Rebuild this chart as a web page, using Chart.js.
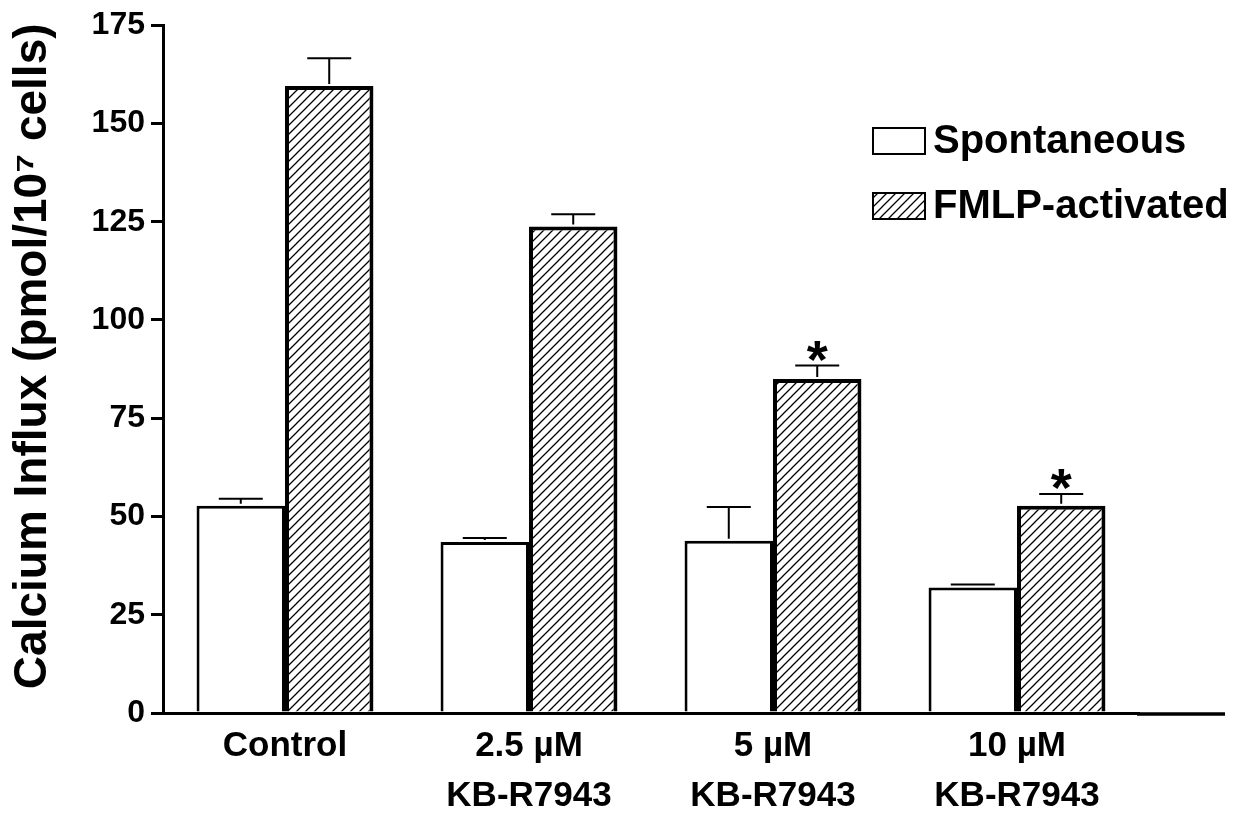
<!DOCTYPE html>
<html>
<head>
<meta charset="utf-8">
<script src="https://cdn.jsdelivr.net/npm/chart.js@4.4.1/dist/chart.umd.min.js"></script>
<style>
  body { margin: 0; background: #fff; }
  #wrap { width: 1239px; height: 819px; }
</style>
</head>
<body>
<div id="wrap"><canvas id="calciumChart" width="1239" height="819"></canvas></div>
<script>
// categorias del eje x
const grupos = ['Control', ['2.5 µM', 'KB-R7943'], ['5 µM', 'KB-R7943'], ['10 µM', 'KB-R7943']];
// valores
const espontaneo = [52.7, 43.5, 43.8, 31.9];
const espontaneoErr = [1.8, 1.0, 8.6, 0.8];
const fmlp = [159.5, 123.8, 85.0, 52.7];
const fmlpErr = [7.1, 3.1, 3.4, 3.0];
const fmlpSig = ['', '', '*', '*'];
const yTicks = [0, 25, 50, 75, 100, 125, 150, 175];

const FONT = '"Liberation Sans", Arial, sans-serif';

// patron rayado para FMLP
function makeHatch() {
    const c = document.createElement('canvas');
    c.width = 9; c.height = 9;
    const g = c.getContext('2d');
    g.fillStyle = '#fff';
    g.fillRect(0, 0, 9, 9);
    g.strokeStyle = '#000';
    g.lineWidth = 1.3;
    g.beginPath();
    g.moveTo(-1, 10); g.lineTo(10, -1);
    g.moveTo(-2, 2); g.lineTo(2, -2);
    g.moveTo(7, 11); g.lineTo(11, 7);
    g.stroke();
    return g.createPattern(c, 'repeat');
}

document.addEventListener('DOMContentLoaded', function () {
    const ctx = document.getElementById('calciumChart').getContext('2d');
    const hatch = makeHatch();

    // barras de error, asteriscos, leyenda y eje x alargado
    const extras = {
        id: 'extras',
        afterDatasetsDraw(chart) {
            const c = chart.ctx;
            const y = chart.scales.y;
            const errs = [espontaneoErr, fmlpErr];
            c.save();
            chart.data.datasets.forEach((ds, di) => {
                const meta = chart.getDatasetMeta(di);
                meta.data.forEach((bar, i) => {
                    const top = y.getPixelForValue(ds.data[i]);
                    const cap = y.getPixelForValue(ds.data[i] + errs[di][i]);
                    c.strokeStyle = '#000';
                    c.lineWidth = 2;
                    c.beginPath();
                    c.moveTo(bar.x, top - 2);
                    c.lineTo(bar.x, cap);
                    c.moveTo(bar.x - 22, cap);
                    c.lineTo(bar.x + 22, cap);
                    c.stroke();
                    if (di === 1 && fmlpSig[i]) {
                        c.fillStyle = '#000';
                        c.font = 'bold 54px ' + FONT;
                        c.textAlign = 'center';
                        c.textBaseline = 'alphabetic';
                        c.fillText(fmlpSig[i], bar.x, cap + 12);
                    }
                });
            });
            // eje x se extiende a la derecha
            const a = chart.chartArea;
            c.strokeStyle = '#000';
            c.lineWidth = 3.5;
            c.beginPath();
            c.moveTo(a.right - 2, a.bottom + 1);
            c.lineTo(1225, a.bottom + 1);
            c.stroke();

            // leyenda
            c.font = 'bold 40px ' + FONT;
            c.textAlign = 'left';
            c.textBaseline = 'middle';
            const rows = [141, 206];
            chart.data.datasets.forEach((ds, di) => {
                const cy = rows[di];
                c.fillStyle = ds.backgroundColor;
                c.fillRect(873, cy - 13, 52, 26);
                c.lineWidth = 2;
                c.strokeStyle = '#000';
                c.strokeRect(873, cy - 13, 52, 26);
                c.fillStyle = '#000';
                c.fillText(ds.label, 933, cy + 1);
            });
            c.restore();
        }
    };

    new Chart(ctx, {
        type: 'bar',
        data: {
            labels: grupos,
            datasets: [{
                label: 'Spontaneous',
                data: espontaneo,
                backgroundColor: '#ffffff',
                borderColor: '#000',
                borderWidth: 3
            }, {
                label: 'FMLP-activated',
                data: fmlp,
                backgroundColor: hatch,
                borderColor: '#000',
                borderWidth: 4
            }]
        },
        options: {
            responsive: false,
            animation: false,
            layout: { padding: { top: 22, right: 100, bottom: 0, left: 0 } },
            plugins: { legend: { display: false }, tooltip: { enabled: false } },
            datasets: { bar: { categoryPercentage: 0.725, barPercentage: 1.0 } },
            scales: {
                x: {
                    grid: { display: false },
                    border: { display: true, color: '#000', width: 3 },
                    ticks: { color: '#000', padding: 0, maxRotation: 0, autoSkip: false,
                             font: { family: FONT, size: 35, weight: 'bold', lineHeight: 1.43 } },
                    afterFit(scale) { scale.height = 106; }
                },
                y: {
                    min: 0,
                    max: 175,
                    afterBuildTicks(scale) { scale.ticks = yTicks.map(v => ({ value: v })); },
                    grid: { drawOnChartArea: false, drawTicks: true, tickLength: 12, color: '#000', lineWidth: 3 },
                    border: { display: true, color: '#000', width: 3 },
                    ticks: { color: '#000', padding: 6,
                             font: { family: FONT, size: 32, weight: 'bold' } },
                    title: {
                        display: true,
                        // espacios al inicio para subir un poco el titulo
                        text: '\u00a0\u00a0Calcium Influx (pmol/10⁷ cells)',
                        color: '#000',
                        padding: { top: 6, bottom: 0 },
                        font: { family: FONT, size: 46, weight: 'bold' }
                    },
                    afterFit(scale) { scale.width = 163; }
                }
            }
        },
        plugins: [extras]
    });
});
</script>
</body>
</html>
